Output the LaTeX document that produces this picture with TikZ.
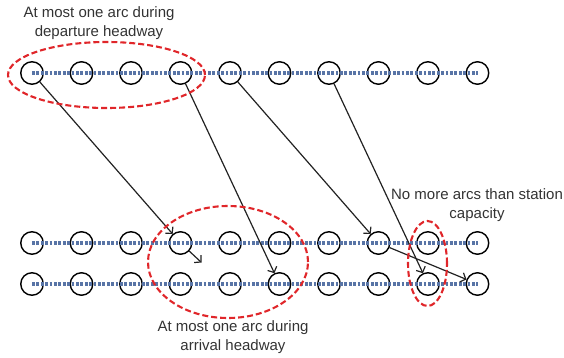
\documentclass[tikz,border=0pt]{standalone}
\usepackage{fontspec}
\setmainfont{Liberation Sans}
\usetikzlibrary{arrows.meta,shapes.geometric}
\definecolor{dotblue}{HTML}{5874A6}
\definecolor{ellred}{HTML}{E0262A}
\definecolor{arcgray}{HTML}{222222}
\tikzset{
  ev/.style={circle,draw=black,line width=1.4pt,minimum size=22.5pt,inner sep=0pt},
  timeline/.style={dotblue,line width=3.2pt,dash pattern=on 2.8pt off 1.6pt},
  region/.style={ellred,line width=2.1pt,dash pattern=on 6pt off 3pt},
  arc/.style={arcgray,line width=1.2pt,-{Straight Barb[length=4.5pt,width=10pt,line width=1.2pt]}},
  lbl/.style={font=\fontsize{15}{19}\selectfont,align=center,text=black!80,inner sep=0pt}
}
\begin{document}
\begin{tikzpicture}[x=1pt,y=-1pt]
\useasboundingbox (0,0) rectangle (564,358);
% event nodes
\foreach \i in {1,...,10}{
  \pgfmathsetmacro{\xx}{32+(\i-1)*49.5}
  \node[ev] (t\i) at (\xx,73) {};
  \node[ev] (m\i) at (\xx,243) {};
  \node[ev] (b\i) at (\xx,284) {};
}
% dotted time lines
\draw[timeline] (t1.center) -- (t10.center);
\draw[timeline] (m1.center) -- (m10.center);
\draw[timeline] (b1.center) -- (b10.center);
% arcs
\coordinate (free) at (201.5,262.5);
\draw[arc] (t1) -- (m4);
\draw[arc] (m4) -- (free);
\draw[arc] (t4) -- (b6);
\draw[arc] (t5) -- (m8);
\draw[arc] (t7) -- (b9);
\draw[arc] (m8) -- (b10);
% regions
\node[region,draw,ellipse,minimum width=197pt,minimum height=66pt,inner sep=0pt] (e1) at (106.5,75) {};
\node[region,draw,ellipse,minimum width=160pt,minimum height=112pt,inner sep=0pt] (e2) at (228,262) {};
\node[region,draw,ellipse,minimum width=39pt,minimum height=85pt,inner sep=0pt] (e3) at (427.5,263.5) {};
% labels
\node[lbl] (l1) at (99,23) {At most one arc during\\departure headway};
\node[lbl] (l2) at (477,205.5) {No more arcs than station\\capacity};
\node[lbl] (l3) at (233,337.5) {At most one arc during\\arrival headway};
\end{tikzpicture}
\end{document}
